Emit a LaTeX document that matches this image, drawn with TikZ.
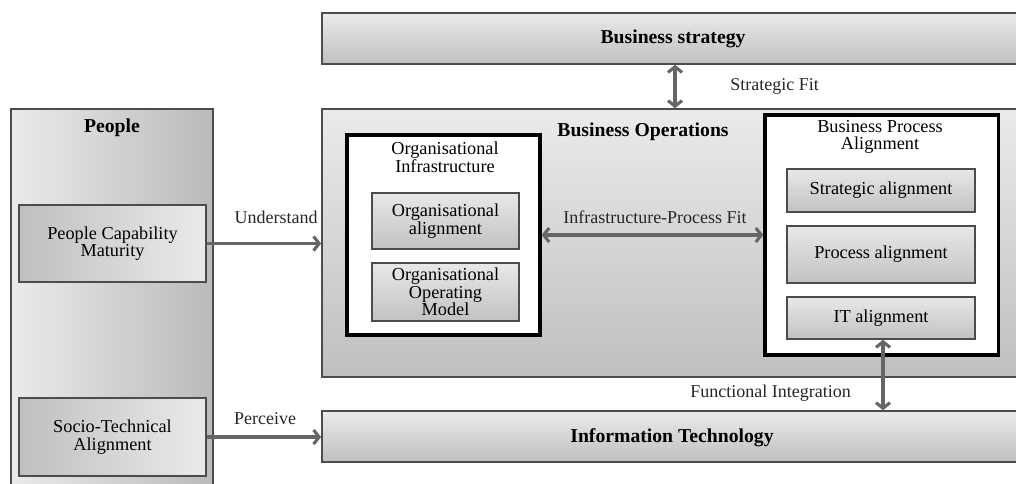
\documentclass[tikz,border=0pt]{standalone}
\usepackage{fontspec}
\setmainfont{Liberation Serif}
\usetikzlibrary{arrows.meta,shadows}

\tikzset{
  panel/.style={draw=black!70, line width=1.1pt, inner sep=0pt,
    drop shadow={shadow xshift=0.7pt, shadow yshift=-0.9pt, opacity=0.35}},
  vpanel/.style={panel, top color=black!8, bottom color=black!25},
  hpanel/.style={panel, left color=black!8, right color=black!27},
  item/.style={panel, top color=black!9, bottom color=black!24, align=center},
  group/.style={draw=black, line width=2.2pt, fill=white, inner sep=0pt},
  link/.style={draw=black!60, line width=2.2pt, -{Straight Barb[length=4pt,width=10pt]}},
  twolink/.style={link, {Straight Barb[length=4pt,width=10pt]}-{Straight Barb[length=4pt,width=10pt]}},
  lbl/.style={font=\fontsize{12.8}{12.8}\selectfont, text=black!85, inner sep=0pt},
  head/.style={font=\bfseries\fontsize{14}{14}\selectfont, align=center, inner sep=0pt},
}

\begin{document}
\begin{tikzpicture}[x=0.025cm, y=-0.025cm, font=\fontsize{13}{12.6}\selectfont]
  \useasboundingbox (0,0) rectangle (1016,483);
  \clip (0,0) rectangle (1016,483);

  % outer layers
  \node [vpanel, minimum width=17.55cm, minimum height=1.275cm] (strategy) at (673,38.5) {};
  \node [vpanel, minimum width=17.55cm, minimum height=6.7cm] (ops) at (673,243) {};
  \node [vpanel, minimum width=17.55cm, minimum height=1.275cm] (it) at (673,436.5) {};
  \node [hpanel, minimum width=5.05cm, minimum height=9.65cm] (people) at (112,302) {};

  \node [head] (strategyTitle) at (673,39) {Business strategy};
  \node [head] (opsTitle) at (643,132) {Business Operations};
  \node [head] (itTitle) at (672,438) {Information Technology};
  \node [head] (peopleTitle) at (112,128) {People};

  % people side
  \node [panel, left color=black!25, right color=black!8, align=center,
    minimum width=4.675cm, minimum height=1.925cm] (pcm) at (112.5,243.5) {People Capability\\Maturity};
  \node [panel, left color=black!25, right color=black!8, align=center,
    minimum width=4.675cm, minimum height=1.95cm] (sta) at (112.5,437) {Socio-Technical\\Alignment};

  % organisational infrastructure
  \node [group, minimum width=4.825cm, minimum height=5cm] (orgInf) at (443.5,235) {};
  \node [align=center, inner sep=0pt] (orgInfTitle) at (445,157) {Organisational\\Infrastructure};
  \node [item, minimum width=3.675cm, minimum height=1.4cm] (orgAl) at (445.5,221) {Organisational\\alignment};
  \node [item, minimum width=3.675cm, minimum height=1.45cm] (orgOm) at (445.5,292) {Organisational\\Operating\\Model};

  % business process alignment
  \node [group, minimum width=5.825cm, minimum height=6cm] (bpa) at (881.5,235) {};
  \node [align=center, inner sep=0pt] (bpaTitle) at (880,137) {Business Process\\Alignment};
  \node [item, minimum width=4.7cm, minimum height=1.075cm] (stratAl) at (881,190.5) {Strategic alignment};
  \node [item, minimum width=4.7cm, minimum height=1.425cm] (procAl) at (881,254.5) {Process alignment};
  \node [item, minimum width=4.7cm, minimum height=1.05cm] (itAl) at (881,318) {IT alignment};

  % fits
  \coordinate (fitX) at (675,0);
  \draw [twolink] (strategy.south -| fitX) -- (ops.north -| fitX);
  \node [lbl, anchor=west] (fitLbl) at (730,86) {Strategic Fit};

  \draw [link] (pcm.east) -- (pcm.east -| ops.west);
  \node [lbl, anchor=east] (understandLbl) at (318,217) {Understand};

  \draw [link] (sta.east) -- (sta.east -| it.west);
  \node [lbl] (perceiveLbl) at (265,419) {Perceive};

  \draw [twolink] (orgInf.east) -- (orgInf.east -| bpa.west);
  \node [lbl] (ipfLbl) at (655,217) {Infrastructure-Process Fit};

  \coordinate (funcX) at (883,0);
  \draw [twolink] (itAl.south -| funcX) -- (it.north -| funcX);
  \node [lbl, anchor=east] (funcLbl) at (851,393) {Functional Integration};
\end{tikzpicture}
\end{document}
